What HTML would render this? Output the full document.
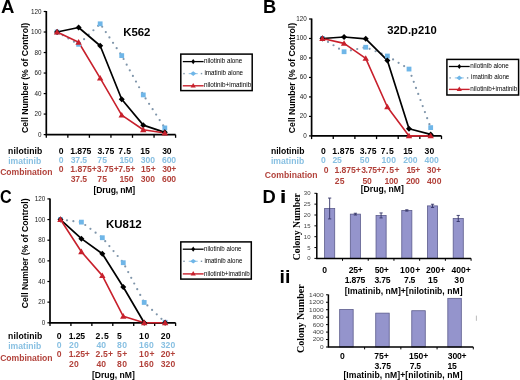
<!DOCTYPE html><html><head><meta charset="utf-8"><style>html,body{margin:0;padding:0;background:#fff;width:520px;height:380px;overflow:hidden}svg{display:block;filter:blur(0.3px)}</style></head><body>
<svg width="520" height="380" viewBox="0 0 520 380">
<rect width="520" height="380" fill="#fff"/>
<text x="1.14" y="12.90" font-family='"Liberation Sans", sans-serif' font-size="18" font-weight="bold" fill="#000" textLength="13.37" lengthAdjust="spacingAndGlyphs">A</text>
<text x="263.11" y="12.90" font-family='"Liberation Sans", sans-serif' font-size="18" font-weight="bold" fill="#000" textLength="13.26" lengthAdjust="spacingAndGlyphs">B</text>
<text x="0.05" y="203.10" font-family='"Liberation Sans", sans-serif' font-size="17.5" font-weight="bold" fill="#000" textLength="11.67" lengthAdjust="spacingAndGlyphs">C</text>
<text x="262.51" y="203.10" font-family='"Liberation Sans", sans-serif' font-size="17.5" font-weight="bold" fill="#000" textLength="13.26" lengthAdjust="spacingAndGlyphs">D</text>
<text x="279.70" y="203.10" font-family='"Liberation Sans", sans-serif' font-size="17.5" font-weight="bold" fill="#000" textLength="6.75" lengthAdjust="spacingAndGlyphs">i</text>
<text x="279.53" y="283.10" font-family='"Liberation Sans", sans-serif' font-size="17.5" font-weight="bold" fill="#000" textLength="10.85" lengthAdjust="spacingAndGlyphs">ii</text>
<text transform="translate(27.70,132.60) rotate(-90)" x="-0.34" y="0" font-family='"Liberation Sans", sans-serif' font-size="9.1" font-weight="bold" fill="#000" textLength="110.14" lengthAdjust="spacingAndGlyphs">Cell Number (% of Control)</text>
<path d="M46.30 11.00V134.60H175.60" fill="none" stroke="#000" stroke-width="1.7"/>
<path d="M43.70 134.60H46.30" stroke="#000" stroke-width="1.2"/>
<text x="38.01" y="136.60" font-family='"Liberation Sans", sans-serif' font-size="7.8" font-weight="normal" fill="#1a1a1a" textLength="3.51" lengthAdjust="spacingAndGlyphs">0</text>
<path d="M43.70 114.08H46.30" stroke="#000" stroke-width="1.2"/>
<text x="34.48" y="116.08" font-family='"Liberation Sans", sans-serif' font-size="7.8" font-weight="normal" fill="#1a1a1a" textLength="7.03" lengthAdjust="spacingAndGlyphs">20</text>
<path d="M43.70 93.57H46.30" stroke="#000" stroke-width="1.2"/>
<text x="34.48" y="95.57" font-family='"Liberation Sans", sans-serif' font-size="7.8" font-weight="normal" fill="#1a1a1a" textLength="7.03" lengthAdjust="spacingAndGlyphs">40</text>
<path d="M43.70 73.05H46.30" stroke="#000" stroke-width="1.2"/>
<text x="34.48" y="75.05" font-family='"Liberation Sans", sans-serif' font-size="7.8" font-weight="normal" fill="#1a1a1a" textLength="7.03" lengthAdjust="spacingAndGlyphs">60</text>
<path d="M43.70 52.53H46.30" stroke="#000" stroke-width="1.2"/>
<text x="34.48" y="54.53" font-family='"Liberation Sans", sans-serif' font-size="7.8" font-weight="normal" fill="#1a1a1a" textLength="7.03" lengthAdjust="spacingAndGlyphs">80</text>
<path d="M43.70 32.02H46.30" stroke="#000" stroke-width="1.2"/>
<text x="31.00" y="34.02" font-family='"Liberation Sans", sans-serif' font-size="7.8" font-weight="normal" fill="#1a1a1a" textLength="10.54" lengthAdjust="spacingAndGlyphs">100</text>
<path d="M43.70 11.50H46.30" stroke="#000" stroke-width="1.2"/>
<text x="31.00" y="13.50" font-family='"Liberation Sans", sans-serif' font-size="7.8" font-weight="normal" fill="#1a1a1a" textLength="10.54" lengthAdjust="spacingAndGlyphs">120</text>
<path d="M46.30 134.60V137.80" stroke="#000" stroke-width="1.3"/>
<path d="M67.85 134.60V137.80" stroke="#000" stroke-width="1.3"/>
<path d="M89.40 134.60V137.80" stroke="#000" stroke-width="1.3"/>
<path d="M110.95 134.60V137.80" stroke="#000" stroke-width="1.3"/>
<path d="M132.50 134.60V137.80" stroke="#000" stroke-width="1.3"/>
<path d="M154.05 134.60V137.80" stroke="#000" stroke-width="1.3"/>
<path d="M175.60 134.60V137.80" stroke="#000" stroke-width="1.3"/>
<g fill="#7f95aa"><circle cx="57.16" cy="32.07" r="1.1"/><circle cx="62.76" cy="35.27" r="1.1"/><circle cx="68.36" cy="38.46" r="1.1"/><circle cx="73.96" cy="41.66" r="1.1"/><circle cx="79.41" cy="43.58" r="1.1"/><circle cx="84.08" cy="39.13" r="1.1"/><circle cx="88.75" cy="34.69" r="1.1"/><circle cx="93.42" cy="30.24" r="1.1"/><circle cx="98.09" cy="25.79" r="1.1"/><circle cx="102.18" cy="26.77" r="1.1"/><circle cx="105.80" cy="32.11" r="1.1"/><circle cx="109.42" cy="37.45" r="1.1"/><circle cx="113.04" cy="42.79" r="1.1"/><circle cx="116.66" cy="48.13" r="1.1"/><circle cx="120.27" cy="53.47" r="1.1"/><circle cx="123.58" cy="59.00" r="1.1"/><circle cx="126.68" cy="64.65" r="1.1"/><circle cx="129.79" cy="70.31" r="1.1"/><circle cx="132.89" cy="75.96" r="1.1"/><circle cx="135.99" cy="81.62" r="1.1"/><circle cx="139.09" cy="87.27" r="1.1"/><circle cx="142.19" cy="92.93" r="1.1"/><circle cx="145.57" cy="98.42" r="1.1"/><circle cx="149.09" cy="103.82" r="1.1"/><circle cx="152.62" cy="109.22" r="1.1"/><circle cx="156.14" cy="114.62" r="1.1"/><circle cx="159.67" cy="120.03" r="1.1"/><circle cx="163.19" cy="125.43" r="1.1"/></g>
<polyline points="57.07,32.02 78.62,27.50 100.17,45.76 121.72,99.21 143.28,125.16 164.82,132.34" fill="none" stroke="#000" stroke-width="1.7" stroke-linejoin="round"/>
<polyline points="57.07,32.02 78.62,42.27 100.17,78.18 121.72,115.11 143.28,129.78 164.82,133.06" fill="none" stroke="#c8202c" stroke-width="1.6" stroke-linejoin="round"/>
<rect x="54.67" y="29.62" width="4.80" height="4.80" fill="#6fb6e8"/>
<rect x="76.22" y="41.93" width="4.80" height="4.80" fill="#6fb6e8"/>
<rect x="97.77" y="21.41" width="4.80" height="4.80" fill="#6fb6e8"/>
<rect x="119.32" y="53.21" width="4.80" height="4.80" fill="#6fb6e8"/>
<rect x="140.88" y="92.50" width="4.80" height="4.80" fill="#6fb6e8"/>
<rect x="162.42" y="125.53" width="4.80" height="4.80" fill="#6fb6e8"/>
<path d="M57.07 29.02L60.07 32.02L57.07 35.02L54.07 32.02Z" fill="#000"/>
<path d="M78.62 24.50L81.62 27.50L78.62 30.50L75.62 27.50Z" fill="#000"/>
<path d="M100.17 42.76L103.17 45.76L100.17 48.76L97.17 45.76Z" fill="#000"/>
<path d="M121.72 96.21L124.72 99.21L121.72 102.21L118.72 99.21Z" fill="#000"/>
<path d="M143.28 122.16L146.28 125.16L143.28 128.16L140.28 125.16Z" fill="#000"/>
<path d="M164.82 129.34L167.82 132.34L164.82 135.34L161.82 132.34Z" fill="#000"/>
<path d="M57.07 28.82L60.27 34.42L53.87 34.42Z" fill="#c8202c"/>
<path d="M78.62 39.07L81.83 44.67L75.42 44.67Z" fill="#c8202c"/>
<path d="M100.17 74.98L103.38 80.58L96.97 80.58Z" fill="#c8202c"/>
<path d="M121.72 111.91L124.92 117.51L118.52 117.51Z" fill="#c8202c"/>
<path d="M143.28 126.58L146.47 132.18L140.08 132.18Z" fill="#c8202c"/>
<path d="M164.82 129.86L168.02 135.46L161.62 135.46Z" fill="#c8202c"/>
<text x="123.20" y="35.90" font-family='"Liberation Sans", sans-serif' font-size="11.7" font-weight="bold" fill="#000" textLength="27.26" lengthAdjust="spacingAndGlyphs">K562</text>
<rect x="180.80" y="54.10" width="71.40" height="36.50" fill="none" stroke="#000" stroke-width="1.5"/>
<path d="M182.80 61.60H203.60" stroke="#000" stroke-width="1.3"/>
<path d="M193.20 59.00L195.10 61.60L193.20 64.20L191.30 61.60Z" fill="#000"/>
<rect x="183.30" y="72.90" width="1.4" height="1.4" fill="#7f95aa"/>
<rect x="200.80" y="72.90" width="1.4" height="1.4" fill="#7f95aa"/>
<path d="M188.70 73.60H197.70" stroke="#9fcbe8" stroke-width="1.2"/>
<path d="M193.20 71.30L196.20 73.60L193.20 75.90L190.20 73.60Z" fill="#6fb6e8"/>
<path d="M182.80 85.80H203.60" stroke="#c8202c" stroke-width="1.4"/>
<path d="M193.20 82.90L195.80 87.45L190.60 87.45Z" fill="#c8202c"/>
<text x="203.96" y="63.30" font-family='"Liberation Sans", sans-serif' font-size="6.8" font-weight="normal" fill="#000" textLength="38.32" lengthAdjust="spacingAndGlyphs">nilotinib alone</text>
<text x="204.46" y="75.10" font-family='"Liberation Sans", sans-serif' font-size="6.8" font-weight="normal" fill="#000" textLength="38.65" lengthAdjust="spacingAndGlyphs">imatinib alone</text>
<text x="203.95" y="87.40" font-family='"Liberation Sans", sans-serif' font-size="6.8" font-weight="normal" fill="#000" textLength="47.31" lengthAdjust="spacingAndGlyphs">nilotinib+imatinib</text>
<text transform="translate(294.50,132.80) rotate(-90)" x="-0.35" y="0" font-family='"Liberation Sans", sans-serif' font-size="9.1" font-weight="bold" fill="#000" textLength="110.24" lengthAdjust="spacingAndGlyphs">Cell Number (% of Control)</text>
<path d="M311.60 18.50V135.90H441.50" fill="none" stroke="#000" stroke-width="1.7"/>
<path d="M309.00 135.90H311.60" stroke="#000" stroke-width="1.2"/>
<text x="303.21" y="137.90" font-family='"Liberation Sans", sans-serif' font-size="7.8" font-weight="normal" fill="#1a1a1a" textLength="3.51" lengthAdjust="spacingAndGlyphs">0</text>
<path d="M309.00 116.42H311.60" stroke="#000" stroke-width="1.2"/>
<text x="299.68" y="118.42" font-family='"Liberation Sans", sans-serif' font-size="7.8" font-weight="normal" fill="#1a1a1a" textLength="7.03" lengthAdjust="spacingAndGlyphs">20</text>
<path d="M309.00 96.93H311.60" stroke="#000" stroke-width="1.2"/>
<text x="299.68" y="98.93" font-family='"Liberation Sans", sans-serif' font-size="7.8" font-weight="normal" fill="#1a1a1a" textLength="7.03" lengthAdjust="spacingAndGlyphs">40</text>
<path d="M309.00 77.45H311.60" stroke="#000" stroke-width="1.2"/>
<text x="299.68" y="79.45" font-family='"Liberation Sans", sans-serif' font-size="7.8" font-weight="normal" fill="#1a1a1a" textLength="7.03" lengthAdjust="spacingAndGlyphs">60</text>
<path d="M309.00 57.97H311.60" stroke="#000" stroke-width="1.2"/>
<text x="299.68" y="59.97" font-family='"Liberation Sans", sans-serif' font-size="7.8" font-weight="normal" fill="#1a1a1a" textLength="7.03" lengthAdjust="spacingAndGlyphs">80</text>
<path d="M309.00 38.48H311.60" stroke="#000" stroke-width="1.2"/>
<text x="296.20" y="40.48" font-family='"Liberation Sans", sans-serif' font-size="7.8" font-weight="normal" fill="#1a1a1a" textLength="10.54" lengthAdjust="spacingAndGlyphs">100</text>
<path d="M309.00 19.00H311.60" stroke="#000" stroke-width="1.2"/>
<text x="296.20" y="21.00" font-family='"Liberation Sans", sans-serif' font-size="7.8" font-weight="normal" fill="#1a1a1a" textLength="10.54" lengthAdjust="spacingAndGlyphs">120</text>
<path d="M311.60 135.90V139.10" stroke="#000" stroke-width="1.3"/>
<path d="M333.25 135.90V139.10" stroke="#000" stroke-width="1.3"/>
<path d="M354.90 135.90V139.10" stroke="#000" stroke-width="1.3"/>
<path d="M376.55 135.90V139.10" stroke="#000" stroke-width="1.3"/>
<path d="M398.20 135.90V139.10" stroke="#000" stroke-width="1.3"/>
<path d="M419.85 135.90V139.10" stroke="#000" stroke-width="1.3"/>
<path d="M441.50 135.90V139.10" stroke="#000" stroke-width="1.3"/>
<g fill="#7f95aa"><circle cx="322.51" cy="38.54" r="1.1"/><circle cx="328.01" cy="41.90" r="1.1"/><circle cx="333.51" cy="45.27" r="1.1"/><circle cx="339.02" cy="48.64" r="1.1"/><circle cx="344.58" cy="51.63" r="1.1"/><circle cx="350.90" cy="50.32" r="1.1"/><circle cx="357.21" cy="49.01" r="1.1"/><circle cx="363.53" cy="47.71" r="1.1"/><circle cx="369.63" cy="48.83" r="1.1"/><circle cx="375.60" cy="51.25" r="1.1"/><circle cx="381.58" cy="53.67" r="1.1"/><circle cx="387.55" cy="56.12" r="1.1"/><circle cx="393.07" cy="59.45" r="1.1"/><circle cx="398.59" cy="62.78" r="1.1"/><circle cx="404.12" cy="66.11" r="1.1"/><circle cx="409.27" cy="69.75" r="1.1"/><circle cx="411.51" cy="75.80" r="1.1"/><circle cx="413.75" cy="81.85" r="1.1"/><circle cx="415.99" cy="87.90" r="1.1"/><circle cx="418.22" cy="93.95" r="1.1"/><circle cx="420.46" cy="100.00" r="1.1"/><circle cx="422.70" cy="106.05" r="1.1"/><circle cx="424.93" cy="112.10" r="1.1"/><circle cx="427.17" cy="118.14" r="1.1"/><circle cx="429.41" cy="124.19" r="1.1"/></g>
<polyline points="322.43,38.48 344.08,37.02 365.73,38.87 387.38,60.40 409.02,128.79 430.68,134.44" fill="none" stroke="#000" stroke-width="1.7" stroke-linejoin="round"/>
<polyline points="322.43,38.48 344.08,43.35 365.73,58.45 387.38,106.97 409.02,135.90 430.68,135.90" fill="none" stroke="#c8202c" stroke-width="1.6" stroke-linejoin="round"/>
<rect x="320.03" y="36.08" width="4.80" height="4.80" fill="#6fb6e8"/>
<rect x="341.68" y="49.33" width="4.80" height="4.80" fill="#6fb6e8"/>
<rect x="363.33" y="44.85" width="4.80" height="4.80" fill="#6fb6e8"/>
<rect x="384.98" y="53.62" width="4.80" height="4.80" fill="#6fb6e8"/>
<rect x="406.62" y="66.67" width="4.80" height="4.80" fill="#6fb6e8"/>
<rect x="428.28" y="125.22" width="4.80" height="4.80" fill="#6fb6e8"/>
<path d="M322.43 35.48L325.43 38.48L322.43 41.48L319.43 38.48Z" fill="#000"/>
<path d="M344.08 34.02L347.08 37.02L344.08 40.02L341.08 37.02Z" fill="#000"/>
<path d="M365.73 35.87L368.73 38.87L365.73 41.87L362.73 38.87Z" fill="#000"/>
<path d="M387.38 57.40L390.38 60.40L387.38 63.40L384.38 60.40Z" fill="#000"/>
<path d="M409.02 125.79L412.02 128.79L409.02 131.79L406.02 128.79Z" fill="#000"/>
<path d="M430.68 131.44L433.68 134.44L430.68 137.44L427.68 134.44Z" fill="#000"/>
<path d="M322.43 35.28L325.62 40.88L319.23 40.88Z" fill="#c8202c"/>
<path d="M344.08 40.15L347.28 45.75L340.88 45.75Z" fill="#c8202c"/>
<path d="M365.73 55.25L368.93 60.85L362.53 60.85Z" fill="#c8202c"/>
<path d="M387.38 103.77L390.57 109.37L384.18 109.37Z" fill="#c8202c"/>
<path d="M409.02 132.70L412.22 138.30L405.82 138.30Z" fill="#c8202c"/>
<path d="M430.68 132.70L433.88 138.30L427.48 138.30Z" fill="#c8202c"/>
<text x="387.28" y="33.80" font-family='"Liberation Sans", sans-serif' font-size="11.3" font-weight="bold" fill="#000" textLength="49.38" lengthAdjust="spacingAndGlyphs">32D.p210</text>
<rect x="446.90" y="59.40" width="71.70" height="35.60" fill="none" stroke="#000" stroke-width="1.5"/>
<path d="M448.90 66.50H469.70" stroke="#000" stroke-width="1.3"/>
<path d="M459.30 63.90L461.20 66.50L459.30 69.10L457.40 66.50Z" fill="#000"/>
<rect x="449.40" y="77.20" width="1.4" height="1.4" fill="#7f95aa"/>
<rect x="466.90" y="77.20" width="1.4" height="1.4" fill="#7f95aa"/>
<path d="M454.80 77.90H463.80" stroke="#9fcbe8" stroke-width="1.2"/>
<path d="M459.30 75.60L462.30 77.90L459.30 80.20L456.30 77.90Z" fill="#6fb6e8"/>
<path d="M448.90 89.40H469.70" stroke="#c8202c" stroke-width="1.4"/>
<path d="M459.30 86.50L461.90 91.05L456.70 91.05Z" fill="#c8202c"/>
<text x="470.36" y="68.20" font-family='"Liberation Sans", sans-serif' font-size="6.8" font-weight="normal" fill="#000" textLength="38.42" lengthAdjust="spacingAndGlyphs">nilotinib alone</text>
<text x="471.07" y="79.40" font-family='"Liberation Sans", sans-serif' font-size="6.8" font-weight="normal" fill="#000" textLength="38.24" lengthAdjust="spacingAndGlyphs">imatinib alone</text>
<text x="470.36" y="91.00" font-family='"Liberation Sans", sans-serif' font-size="6.8" font-weight="normal" fill="#000" textLength="46.90" lengthAdjust="spacingAndGlyphs">nilotinib+imatinib</text>
<text transform="translate(27.80,307.90) rotate(-90)" x="-0.34" y="0" font-family='"Liberation Sans", sans-serif' font-size="9.1" font-weight="bold" fill="#000" textLength="109.73" lengthAdjust="spacingAndGlyphs">Cell Number (% of Control)</text>
<path d="M50.00 198.40V322.80H175.60" fill="none" stroke="#000" stroke-width="1.7"/>
<path d="M47.40 322.80H50.00" stroke="#000" stroke-width="1.2"/>
<text x="41.71" y="324.80" font-family='"Liberation Sans", sans-serif' font-size="7.8" font-weight="normal" fill="#1a1a1a" textLength="3.51" lengthAdjust="spacingAndGlyphs">0</text>
<path d="M47.40 302.15H50.00" stroke="#000" stroke-width="1.2"/>
<text x="38.18" y="304.15" font-family='"Liberation Sans", sans-serif' font-size="7.8" font-weight="normal" fill="#1a1a1a" textLength="7.03" lengthAdjust="spacingAndGlyphs">20</text>
<path d="M47.40 281.50H50.00" stroke="#000" stroke-width="1.2"/>
<text x="38.18" y="283.50" font-family='"Liberation Sans", sans-serif' font-size="7.8" font-weight="normal" fill="#1a1a1a" textLength="7.03" lengthAdjust="spacingAndGlyphs">40</text>
<path d="M47.40 260.85H50.00" stroke="#000" stroke-width="1.2"/>
<text x="38.18" y="262.85" font-family='"Liberation Sans", sans-serif' font-size="7.8" font-weight="normal" fill="#1a1a1a" textLength="7.03" lengthAdjust="spacingAndGlyphs">60</text>
<path d="M47.40 240.20H50.00" stroke="#000" stroke-width="1.2"/>
<text x="38.18" y="242.20" font-family='"Liberation Sans", sans-serif' font-size="7.8" font-weight="normal" fill="#1a1a1a" textLength="7.03" lengthAdjust="spacingAndGlyphs">80</text>
<path d="M47.40 219.55H50.00" stroke="#000" stroke-width="1.2"/>
<text x="34.70" y="221.55" font-family='"Liberation Sans", sans-serif' font-size="7.8" font-weight="normal" fill="#1a1a1a" textLength="10.54" lengthAdjust="spacingAndGlyphs">100</text>
<path d="M47.40 198.90H50.00" stroke="#000" stroke-width="1.2"/>
<text x="34.70" y="200.90" font-family='"Liberation Sans", sans-serif' font-size="7.8" font-weight="normal" fill="#1a1a1a" textLength="10.54" lengthAdjust="spacingAndGlyphs">120</text>
<path d="M50.00 322.80V326.00" stroke="#000" stroke-width="1.3"/>
<path d="M70.93 322.80V326.00" stroke="#000" stroke-width="1.3"/>
<path d="M91.87 322.80V326.00" stroke="#000" stroke-width="1.3"/>
<path d="M112.80 322.80V326.00" stroke="#000" stroke-width="1.3"/>
<path d="M133.73 322.80V326.00" stroke="#000" stroke-width="1.3"/>
<path d="M154.67 322.80V326.00" stroke="#000" stroke-width="1.3"/>
<path d="M175.60 322.80V326.00" stroke="#000" stroke-width="1.3"/>
<g fill="#7f95aa"><circle cx="60.57" cy="219.56" r="1.1"/><circle cx="66.97" cy="220.35" r="1.1"/><circle cx="73.37" cy="221.14" r="1.1"/><circle cx="79.77" cy="221.93" r="1.1"/><circle cx="85.26" cy="225.00" r="1.1"/><circle cx="90.43" cy="228.86" r="1.1"/><circle cx="95.60" cy="232.71" r="1.1"/><circle cx="100.77" cy="236.56" r="1.1"/><circle cx="105.23" cy="241.18" r="1.1"/><circle cx="109.37" cy="246.12" r="1.1"/><circle cx="113.51" cy="251.07" r="1.1"/><circle cx="117.65" cy="256.01" r="1.1"/><circle cx="121.80" cy="260.95" r="1.1"/><circle cx="125.21" cy="266.39" r="1.1"/><circle cx="128.21" cy="272.10" r="1.1"/><circle cx="131.22" cy="277.80" r="1.1"/><circle cx="134.22" cy="283.51" r="1.1"/><circle cx="137.23" cy="289.22" r="1.1"/><circle cx="140.23" cy="294.92" r="1.1"/><circle cx="143.24" cy="300.63" r="1.1"/><circle cx="147.38" cy="305.47" r="1.1"/><circle cx="152.07" cy="309.91" r="1.1"/><circle cx="156.75" cy="314.34" r="1.1"/><circle cx="161.43" cy="318.78" r="1.1"/></g>
<polyline points="60.47,219.55 81.40,238.65 102.33,253.73 123.27,286.97 144.20,322.80 165.13,322.80" fill="none" stroke="#000" stroke-width="1.7" stroke-linejoin="round"/>
<polyline points="60.47,219.55 81.40,251.76 102.33,275.61 123.27,316.30 144.20,322.80 165.13,322.80" fill="none" stroke="#c8202c" stroke-width="1.6" stroke-linejoin="round"/>
<rect x="58.07" y="217.15" width="4.80" height="4.80" fill="#6fb6e8"/>
<rect x="79.00" y="219.73" width="4.80" height="4.80" fill="#6fb6e8"/>
<rect x="99.93" y="235.32" width="4.80" height="4.80" fill="#6fb6e8"/>
<rect x="120.87" y="260.31" width="4.80" height="4.80" fill="#6fb6e8"/>
<rect x="141.80" y="300.06" width="4.80" height="4.80" fill="#6fb6e8"/>
<rect x="162.73" y="319.88" width="4.80" height="4.80" fill="#6fb6e8"/>
<path d="M60.47 216.55L63.47 219.55L60.47 222.55L57.47 219.55Z" fill="#000"/>
<path d="M81.40 235.65L84.40 238.65L81.40 241.65L78.40 238.65Z" fill="#000"/>
<path d="M102.33 250.73L105.33 253.73L102.33 256.73L99.33 253.73Z" fill="#000"/>
<path d="M123.27 283.97L126.27 286.97L123.27 289.97L120.27 286.97Z" fill="#000"/>
<path d="M144.20 319.80L147.20 322.80L144.20 325.80L141.20 322.80Z" fill="#000"/>
<path d="M165.13 319.80L168.13 322.80L165.13 325.80L162.13 322.80Z" fill="#000"/>
<path d="M60.47 216.35L63.67 221.95L57.27 221.95Z" fill="#c8202c"/>
<path d="M81.40 248.56L84.60 254.16L78.20 254.16Z" fill="#c8202c"/>
<path d="M102.33 272.41L105.53 278.01L99.13 278.01Z" fill="#c8202c"/>
<path d="M123.27 313.10L126.47 318.70L120.07 318.70Z" fill="#c8202c"/>
<path d="M144.20 319.60L147.40 325.20L141.00 325.20Z" fill="#c8202c"/>
<path d="M165.13 319.60L168.33 325.20L161.93 325.20Z" fill="#c8202c"/>
<text x="105.90" y="228.30" font-family='"Liberation Sans", sans-serif' font-size="11.8" font-weight="bold" fill="#000" textLength="35.78" lengthAdjust="spacingAndGlyphs">KU812</text>
<rect x="180.80" y="241.90" width="70.50" height="37.20" fill="none" stroke="#000" stroke-width="1.5"/>
<path d="M182.80 249.20H203.60" stroke="#000" stroke-width="1.3"/>
<path d="M193.20 246.60L195.10 249.20L193.20 251.80L191.30 249.20Z" fill="#000"/>
<rect x="183.30" y="260.60" width="1.4" height="1.4" fill="#7f95aa"/>
<rect x="200.80" y="260.60" width="1.4" height="1.4" fill="#7f95aa"/>
<path d="M188.70 261.30H197.70" stroke="#9fcbe8" stroke-width="1.2"/>
<path d="M193.20 259.00L196.20 261.30L193.20 263.60L190.20 261.30Z" fill="#6fb6e8"/>
<path d="M182.80 273.90H203.60" stroke="#c8202c" stroke-width="1.4"/>
<path d="M193.20 271.00L195.80 275.55L190.60 275.55Z" fill="#c8202c"/>
<text x="203.97" y="250.90" font-family='"Liberation Sans", sans-serif' font-size="6.8" font-weight="normal" fill="#000" textLength="37.51" lengthAdjust="spacingAndGlyphs">nilotinib alone</text>
<text x="204.47" y="262.80" font-family='"Liberation Sans", sans-serif' font-size="6.8" font-weight="normal" fill="#000" textLength="37.84" lengthAdjust="spacingAndGlyphs">imatinib alone</text>
<text x="203.97" y="275.50" font-family='"Liberation Sans", sans-serif' font-size="6.8" font-weight="normal" fill="#000" textLength="45.68" lengthAdjust="spacingAndGlyphs">nilotinib+imatinib</text>
<text x="8.10" y="153.60" font-family='"Liberation Sans", sans-serif' font-size="8.6" font-weight="bold" fill="#000" style="letter-spacing:0.099px">nilotinib</text>
<text x="8.20" y="163.80" font-family='"Liberation Sans", sans-serif' font-size="8.6" font-weight="bold" fill="#88c0e2" style="letter-spacing:0.015px">imatinib</text>
<text x="0.16" y="174.90" font-family='"Liberation Sans", sans-serif' font-size="8.6" font-weight="bold" fill="#b2423b" style="letter-spacing:-0.029px">Combination</text>
<text x="58.66" y="154.00" font-family='"Liberation Sans", sans-serif' font-size="8.6" font-weight="bold" fill="#000">0</text>
<text x="70.28" y="154.00" font-family='"Liberation Sans", sans-serif' font-size="8.6" font-weight="bold" fill="#000" style="letter-spacing:-0.103px">1.875</text>
<text x="97.43" y="154.00" font-family='"Liberation Sans", sans-serif' font-size="8.6" font-weight="bold" fill="#000" style="letter-spacing:0.020px">3.75</text>
<text x="118.16" y="154.00" font-family='"Liberation Sans", sans-serif' font-size="8.6" font-weight="bold" fill="#000" style="letter-spacing:0.474px">7.5</text>
<text x="140.28" y="154.00" font-family='"Liberation Sans", sans-serif' font-size="8.6" font-weight="bold" fill="#000" style="letter-spacing:0.042px">15</text>
<text x="162.13" y="154.00" font-family='"Liberation Sans", sans-serif' font-size="8.6" font-weight="bold" fill="#000" style="letter-spacing:-0.216px">30</text>
<text x="58.66" y="163.30" font-family='"Liberation Sans", sans-serif' font-size="8.6" font-weight="bold" fill="#88c0e2">0</text>
<text x="70.63" y="163.30" font-family='"Liberation Sans", sans-serif' font-size="8.6" font-weight="bold" fill="#88c0e2" style="letter-spacing:-0.147px">37.5</text>
<text x="97.26" y="163.30" font-family='"Liberation Sans", sans-serif' font-size="8.6" font-weight="bold" fill="#88c0e2" style="letter-spacing:0.170px">75</text>
<text x="119.48" y="163.30" font-family='"Liberation Sans", sans-serif' font-size="8.6" font-weight="bold" fill="#88c0e2" style="letter-spacing:-0.201px">150</text>
<text x="140.63" y="163.30" font-family='"Liberation Sans", sans-serif' font-size="8.6" font-weight="bold" fill="#88c0e2" style="letter-spacing:-0.023px">300</text>
<text x="161.96" y="163.30" font-family='"Liberation Sans", sans-serif' font-size="8.6" font-weight="bold" fill="#88c0e2" style="letter-spacing:-0.087px">600</text>
<text x="58.66" y="171.50" font-family='"Liberation Sans", sans-serif' font-size="8.6" font-weight="bold" fill="#b2423b">0</text>
<text x="70.28" y="171.50" font-family='"Liberation Sans", sans-serif' font-size="8.6" font-weight="bold" fill="#b2423b" style="letter-spacing:-0.006px">1.875+</text>
<text x="96.63" y="171.50" font-family='"Liberation Sans", sans-serif' font-size="8.6" font-weight="bold" fill="#b2423b" style="letter-spacing:0.090px">3.75+</text>
<text x="118.26" y="171.50" font-family='"Liberation Sans", sans-serif' font-size="8.6" font-weight="bold" fill="#b2423b" style="letter-spacing:0.049px">7.5+</text>
<text x="140.98" y="171.50" font-family='"Liberation Sans", sans-serif' font-size="8.6" font-weight="bold" fill="#b2423b" style="letter-spacing:0.063px">15+</text>
<text x="162.13" y="171.50" font-family='"Liberation Sans", sans-serif' font-size="8.6" font-weight="bold" fill="#b2423b" style="letter-spacing:-0.259px">30+</text>
<text x="70.63" y="181.80" font-family='"Liberation Sans", sans-serif' font-size="8.6" font-weight="bold" fill="#b2423b" style="letter-spacing:-0.147px">37.5</text>
<text x="97.26" y="181.80" font-family='"Liberation Sans", sans-serif' font-size="8.6" font-weight="bold" fill="#b2423b" style="letter-spacing:0.170px">75</text>
<text x="119.48" y="181.80" font-family='"Liberation Sans", sans-serif' font-size="8.6" font-weight="bold" fill="#b2423b" style="letter-spacing:-0.201px">150</text>
<text x="140.63" y="181.80" font-family='"Liberation Sans", sans-serif' font-size="8.6" font-weight="bold" fill="#b2423b" style="letter-spacing:-0.023px">300</text>
<text x="161.96" y="181.80" font-family='"Liberation Sans", sans-serif' font-size="8.6" font-weight="bold" fill="#b2423b" style="letter-spacing:-0.087px">600</text>
<text x="93.58" y="192.50" font-family='"Liberation Sans", sans-serif' font-size="8.6" font-weight="bold" fill="#000" style="letter-spacing:-0.150px">[Drug, nM]</text>
<text x="270.90" y="153.70" font-family='"Liberation Sans", sans-serif' font-size="8.6" font-weight="bold" fill="#000" style="letter-spacing:0.012px">nilotinib</text>
<text x="270.90" y="164.00" font-family='"Liberation Sans", sans-serif' font-size="8.6" font-weight="bold" fill="#88c0e2" style="letter-spacing:0.044px">imatinib</text>
<text x="264.86" y="177.90" font-family='"Liberation Sans", sans-serif' font-size="8.6" font-weight="bold" fill="#b2423b" style="letter-spacing:0.021px">Combination</text>
<text x="321.06" y="153.80" font-family='"Liberation Sans", sans-serif' font-size="8.6" font-weight="bold" fill="#000">0</text>
<text x="332.28" y="153.80" font-family='"Liberation Sans", sans-serif' font-size="8.6" font-weight="bold" fill="#000" style="letter-spacing:0.147px">1.875</text>
<text x="359.83" y="153.80" font-family='"Liberation Sans", sans-serif' font-size="8.6" font-weight="bold" fill="#000" style="letter-spacing:-0.047px">3.75</text>
<text x="380.86" y="153.80" font-family='"Liberation Sans", sans-serif' font-size="8.6" font-weight="bold" fill="#000" style="letter-spacing:0.474px">7.5</text>
<text x="403.28" y="153.80" font-family='"Liberation Sans", sans-serif' font-size="8.6" font-weight="bold" fill="#000" style="letter-spacing:-0.300px">15</text>
<text x="424.43" y="153.80" font-family='"Liberation Sans", sans-serif' font-size="8.6" font-weight="bold" fill="#000" style="letter-spacing:0.184px">30</text>
<text x="321.06" y="162.70" font-family='"Liberation Sans", sans-serif' font-size="8.6" font-weight="bold" fill="#88c0e2">0</text>
<text x="332.54" y="162.70" font-family='"Liberation Sans", sans-serif' font-size="8.6" font-weight="bold" fill="#88c0e2" style="letter-spacing:-0.300px">25</text>
<text x="359.74" y="162.70" font-family='"Liberation Sans", sans-serif' font-size="8.6" font-weight="bold" fill="#88c0e2" style="letter-spacing:0.170px">50</text>
<text x="381.38" y="162.70" font-family='"Liberation Sans", sans-serif' font-size="8.6" font-weight="bold" fill="#88c0e2" style="letter-spacing:0.199px">100</text>
<text x="403.14" y="162.70" font-family='"Liberation Sans", sans-serif' font-size="8.6" font-weight="bold" fill="#88c0e2" style="letter-spacing:0.020px">200</text>
<text x="424.51" y="162.70" font-family='"Liberation Sans", sans-serif' font-size="8.6" font-weight="bold" fill="#88c0e2" style="letter-spacing:-0.016px">400</text>
<text x="323.66" y="173.00" font-family='"Liberation Sans", sans-serif' font-size="8.6" font-weight="bold" fill="#b2423b">0</text>
<text x="334.48" y="173.00" font-family='"Liberation Sans", sans-serif' font-size="8.6" font-weight="bold" fill="#b2423b" style="letter-spacing:-0.066px">1.875+</text>
<text x="361.13" y="173.00" font-family='"Liberation Sans", sans-serif' font-size="8.6" font-weight="bold" fill="#b2423b" style="letter-spacing:-0.300px">3.75+</text>
<text x="380.96" y="173.00" font-family='"Liberation Sans", sans-serif' font-size="8.6" font-weight="bold" fill="#b2423b" style="letter-spacing:0.549px">7.5+</text>
<text x="406.38" y="173.00" font-family='"Liberation Sans", sans-serif' font-size="8.6" font-weight="bold" fill="#b2423b" style="letter-spacing:-0.300px">15+</text>
<text x="426.83" y="173.00" font-family='"Liberation Sans", sans-serif' font-size="8.6" font-weight="bold" fill="#b2423b" style="letter-spacing:-0.109px">30+</text>
<text x="334.74" y="183.90" font-family='"Liberation Sans", sans-serif' font-size="8.6" font-weight="bold" fill="#b2423b" style="letter-spacing:0.184px">25</text>
<text x="362.54" y="183.90" font-family='"Liberation Sans", sans-serif' font-size="8.6" font-weight="bold" fill="#b2423b" style="letter-spacing:-0.300px">50</text>
<text x="384.48" y="183.90" font-family='"Liberation Sans", sans-serif' font-size="8.6" font-weight="bold" fill="#b2423b" style="letter-spacing:-0.251px">100</text>
<text x="405.94" y="183.90" font-family='"Liberation Sans", sans-serif' font-size="8.6" font-weight="bold" fill="#b2423b" style="letter-spacing:-0.230px">200</text>
<text x="426.91" y="183.90" font-family='"Liberation Sans", sans-serif' font-size="8.6" font-weight="bold" fill="#b2423b" style="letter-spacing:0.134px">400</text>
<text x="360.68" y="191.90" font-family='"Liberation Sans", sans-serif' font-size="8.6" font-weight="bold" fill="#000" style="letter-spacing:0.027px">[Drug, nM]</text>
<text x="8.10" y="338.80" font-family='"Liberation Sans", sans-serif' font-size="8.6" font-weight="bold" fill="#000" style="letter-spacing:0.099px">nilotinib</text>
<text x="8.20" y="348.90" font-family='"Liberation Sans", sans-serif' font-size="8.6" font-weight="bold" fill="#88c0e2" style="letter-spacing:0.015px">imatinib</text>
<text x="0.16" y="360.50" font-family='"Liberation Sans", sans-serif' font-size="8.6" font-weight="bold" fill="#b2423b" style="letter-spacing:-0.019px">Combination</text>
<text x="56.76" y="339.20" font-family='"Liberation Sans", sans-serif' font-size="8.6" font-weight="bold" fill="#000">0</text>
<text x="68.68" y="339.20" font-family='"Liberation Sans", sans-serif' font-size="8.6" font-weight="bold" fill="#000" style="letter-spacing:-0.099px">1.25</text>
<text x="95.54" y="339.20" font-family='"Liberation Sans", sans-serif' font-size="8.6" font-weight="bold" fill="#000" style="letter-spacing:0.600px">2.5</text>
<text x="116.94" y="339.20" font-family='"Liberation Sans", sans-serif' font-size="8.6" font-weight="bold" fill="#000">5</text>
<text x="139.08" y="339.20" font-family='"Liberation Sans", sans-serif' font-size="8.6" font-weight="bold" fill="#000" style="letter-spacing:0.528px">10</text>
<text x="160.64" y="339.20" font-family='"Liberation Sans", sans-serif' font-size="8.6" font-weight="bold" fill="#000" style="letter-spacing:0.370px">20</text>
<text x="56.76" y="348.30" font-family='"Liberation Sans", sans-serif' font-size="8.6" font-weight="bold" fill="#88c0e2">0</text>
<text x="68.94" y="348.30" font-family='"Liberation Sans", sans-serif' font-size="8.6" font-weight="bold" fill="#88c0e2" style="letter-spacing:0.270px">20</text>
<text x="96.41" y="348.30" font-family='"Liberation Sans", sans-serif' font-size="8.6" font-weight="bold" fill="#88c0e2" style="letter-spacing:-0.002px">40</text>
<text x="116.94" y="348.30" font-family='"Liberation Sans", sans-serif' font-size="8.6" font-weight="bold" fill="#88c0e2" style="letter-spacing:0.600px">80</text>
<text x="139.08" y="348.30" font-family='"Liberation Sans", sans-serif' font-size="8.6" font-weight="bold" fill="#88c0e2" style="letter-spacing:0.199px">160</text>
<text x="160.73" y="348.30" font-family='"Liberation Sans", sans-serif' font-size="8.6" font-weight="bold" fill="#88c0e2" style="letter-spacing:0.077px">320</text>
<text x="56.76" y="356.70" font-family='"Liberation Sans", sans-serif' font-size="8.6" font-weight="bold" fill="#b2423b">0</text>
<text x="68.68" y="356.70" font-family='"Liberation Sans", sans-serif' font-size="8.6" font-weight="bold" fill="#b2423b" style="letter-spacing:-0.150px">1.25+</text>
<text x="95.54" y="356.70" font-family='"Liberation Sans", sans-serif' font-size="8.6" font-weight="bold" fill="#b2423b" style="letter-spacing:0.153px">2.5+</text>
<text x="116.94" y="356.70" font-family='"Liberation Sans", sans-serif' font-size="8.6" font-weight="bold" fill="#b2423b" style="letter-spacing:0.498px">5+</text>
<text x="139.08" y="356.70" font-family='"Liberation Sans", sans-serif' font-size="8.6" font-weight="bold" fill="#b2423b" style="letter-spacing:0.463px">10+</text>
<text x="160.64" y="356.70" font-family='"Liberation Sans", sans-serif' font-size="8.6" font-weight="bold" fill="#b2423b" style="letter-spacing:0.034px">20+</text>
<text x="68.94" y="366.70" font-family='"Liberation Sans", sans-serif' font-size="8.6" font-weight="bold" fill="#b2423b" style="letter-spacing:0.270px">20</text>
<text x="96.41" y="366.70" font-family='"Liberation Sans", sans-serif' font-size="8.6" font-weight="bold" fill="#b2423b" style="letter-spacing:-0.002px">40</text>
<text x="116.94" y="366.70" font-family='"Liberation Sans", sans-serif' font-size="8.6" font-weight="bold" fill="#b2423b" style="letter-spacing:0.600px">80</text>
<text x="139.08" y="366.70" font-family='"Liberation Sans", sans-serif' font-size="8.6" font-weight="bold" fill="#b2423b" style="letter-spacing:0.199px">160</text>
<text x="160.73" y="366.70" font-family='"Liberation Sans", sans-serif' font-size="8.6" font-weight="bold" fill="#b2423b" style="letter-spacing:0.077px">320</text>
<text x="91.98" y="377.60" font-family='"Liberation Sans", sans-serif' font-size="8.6" font-weight="bold" fill="#000" style="letter-spacing:-0.006px">[Drug, nM]</text>
<text transform="translate(299.60,259.70) rotate(-90)" x="-0.49" y="0" font-family='"Liberation Serif", serif' font-size="9.6" font-weight="bold" fill="#000" textLength="67.00" lengthAdjust="spacingAndGlyphs">Colony Number</text>
<rect x="324.61" y="208.49" width="10.10" height="49.91" fill="#9494cc" stroke="#5c5c8c" stroke-width="0.8"/>
<path d="M329.66 198.07V218.91M328.06 198.07h3.2M328.06 218.91h3.2" stroke="#333366" stroke-width="0.9" fill="none"/>
<rect x="350.32" y="214.13" width="10.10" height="44.27" fill="#9494cc" stroke="#5c5c8c" stroke-width="0.8"/>
<path d="M355.38 213.26V215.00M353.77 213.26h3.2M353.77 215.00h3.2" stroke="#333366" stroke-width="0.9" fill="none"/>
<rect x="376.04" y="215.43" width="10.10" height="42.97" fill="#9494cc" stroke="#5c5c8c" stroke-width="0.8"/>
<path d="M381.09 212.94V217.93M379.49 212.94h3.2M379.49 217.93h3.2" stroke="#333366" stroke-width="0.9" fill="none"/>
<rect x="401.76" y="210.44" width="10.10" height="47.96" fill="#9494cc" stroke="#5c5c8c" stroke-width="0.8"/>
<path d="M406.81 209.79V211.09M405.21 209.79h3.2M405.21 211.09h3.2" stroke="#333366" stroke-width="0.9" fill="none"/>
<rect x="427.48" y="205.89" width="10.10" height="52.51" fill="#9494cc" stroke="#5c5c8c" stroke-width="0.8"/>
<path d="M432.53 204.26V207.51M430.93 204.26h3.2M430.93 207.51h3.2" stroke="#333366" stroke-width="0.9" fill="none"/>
<rect x="453.19" y="218.47" width="10.10" height="39.93" fill="#9494cc" stroke="#5c5c8c" stroke-width="0.8"/>
<path d="M458.24 215.43V221.51M456.64 215.43h3.2M456.64 221.51h3.2" stroke="#333366" stroke-width="0.9" fill="none"/>
<path d="M316.80 193.00V258.40H471.10" fill="none" stroke="#000" stroke-width="1.5"/>
<path d="M314.40 258.40H316.80" stroke="#000" stroke-width="1"/>
<text x="307.26" y="260.42" font-family='"Liberation Sans", sans-serif' font-size="5.6" font-weight="normal" fill="#444" textLength="3.36" lengthAdjust="spacingAndGlyphs">0</text>
<path d="M314.40 247.55H316.80" stroke="#000" stroke-width="1"/>
<text x="307.26" y="249.57" font-family='"Liberation Sans", sans-serif' font-size="5.6" font-weight="normal" fill="#444" textLength="3.36" lengthAdjust="spacingAndGlyphs">5</text>
<path d="M314.40 236.70H316.80" stroke="#000" stroke-width="1"/>
<text x="303.87" y="238.72" font-family='"Liberation Sans", sans-serif' font-size="5.6" font-weight="normal" fill="#444" textLength="6.73" lengthAdjust="spacingAndGlyphs">10</text>
<path d="M314.40 225.85H316.80" stroke="#000" stroke-width="1"/>
<text x="303.87" y="227.87" font-family='"Liberation Sans", sans-serif' font-size="5.6" font-weight="normal" fill="#444" textLength="6.73" lengthAdjust="spacingAndGlyphs">15</text>
<path d="M314.40 215.00H316.80" stroke="#000" stroke-width="1"/>
<text x="303.87" y="217.02" font-family='"Liberation Sans", sans-serif' font-size="5.6" font-weight="normal" fill="#444" textLength="6.73" lengthAdjust="spacingAndGlyphs">20</text>
<path d="M314.40 204.15H316.80" stroke="#000" stroke-width="1"/>
<text x="303.87" y="206.17" font-family='"Liberation Sans", sans-serif' font-size="5.6" font-weight="normal" fill="#444" textLength="6.73" lengthAdjust="spacingAndGlyphs">25</text>
<path d="M314.40 193.30H316.80" stroke="#000" stroke-width="1"/>
<text x="303.87" y="195.32" font-family='"Liberation Sans", sans-serif' font-size="5.6" font-weight="normal" fill="#444" textLength="6.73" lengthAdjust="spacingAndGlyphs">30</text>
<path d="M342.52 258.40V260.80" stroke="#000" stroke-width="1"/>
<path d="M368.23 258.40V260.80" stroke="#000" stroke-width="1"/>
<path d="M393.95 258.40V260.80" stroke="#000" stroke-width="1"/>
<path d="M419.67 258.40V260.80" stroke="#000" stroke-width="1"/>
<path d="M445.38 258.40V260.80" stroke="#000" stroke-width="1"/>
<path d="M471.10 258.40V260.80" stroke="#000" stroke-width="1"/>
<text x="322.36" y="273.00" font-family='"Liberation Sans", sans-serif' font-size="8.6" font-weight="bold" fill="#000">0</text>
<text x="348.74" y="273.00" font-family='"Liberation Sans", sans-serif' font-size="8.6" font-weight="bold" fill="#000" style="letter-spacing:-0.216px">25+</text>
<text x="374.74" y="273.00" font-family='"Liberation Sans", sans-serif' font-size="8.6" font-weight="bold" fill="#000" style="letter-spacing:-0.216px">50+</text>
<text x="400.08" y="273.00" font-family='"Liberation Sans", sans-serif' font-size="8.6" font-weight="bold" fill="#000" style="letter-spacing:0.237px">100+</text>
<text x="425.94" y="273.00" font-family='"Liberation Sans", sans-serif' font-size="8.6" font-weight="bold" fill="#000" style="letter-spacing:-0.049px">200+</text>
<text x="451.41" y="273.00" font-family='"Liberation Sans", sans-serif' font-size="8.6" font-weight="bold" fill="#000" style="letter-spacing:-0.007px">400+</text>
<text x="344.78" y="283.00" font-family='"Liberation Sans", sans-serif' font-size="8.6" font-weight="bold" fill="#000" style="letter-spacing:-0.253px">1.875</text>
<text x="374.43" y="283.00" font-family='"Liberation Sans", sans-serif' font-size="8.6" font-weight="bold" fill="#000" style="letter-spacing:-0.180px">3.75</text>
<text x="404.06" y="283.00" font-family='"Liberation Sans", sans-serif' font-size="8.6" font-weight="bold" fill="#000" style="letter-spacing:-0.300px">7.5</text>
<text x="427.98" y="283.00" font-family='"Liberation Sans", sans-serif' font-size="8.6" font-weight="bold" fill="#000" style="letter-spacing:0.342px">15</text>
<text x="454.23" y="283.00" font-family='"Liberation Sans", sans-serif' font-size="8.6" font-weight="bold" fill="#000" style="letter-spacing:0.484px">30</text>
<text x="344.68" y="294.00" font-family='"Liberation Sans", sans-serif' font-size="8.6" font-weight="bold" fill="#000" style="letter-spacing:0.022px">[Imatinib, nM]+[nilotinib, nM]</text>
<text transform="translate(303.60,352.60) rotate(-90)" x="-0.50" y="0" font-family='"Liberation Serif", serif' font-size="9.6" font-weight="bold" fill="#000" textLength="68.81" lengthAdjust="spacingAndGlyphs">Colony Number</text>
<rect x="339.67" y="309.53" width="13.50" height="37.47" fill="#9494cc" stroke="#5c5c8c" stroke-width="0.8"/>
<rect x="375.72" y="313.14" width="13.50" height="33.86" fill="#9494cc" stroke="#5c5c8c" stroke-width="0.8"/>
<rect x="411.77" y="310.72" width="13.50" height="36.28" fill="#9494cc" stroke="#5c5c8c" stroke-width="0.8"/>
<rect x="447.82" y="298.34" width="13.50" height="48.66" fill="#9494cc" stroke="#5c5c8c" stroke-width="0.8"/>
<path d="M328.40 294.50V347.00H473.30" fill="none" stroke="#000" stroke-width="1.5"/>
<path d="M326.00 347.00H328.40" stroke="#000" stroke-width="1"/>
<text x="319.92" y="348.87" font-family='"Liberation Sans", sans-serif' font-size="5.2" font-weight="normal" fill="#444" textLength="3.61" lengthAdjust="spacingAndGlyphs">0</text>
<path d="M326.00 339.54H328.40" stroke="#000" stroke-width="1"/>
<text x="312.71" y="341.41" font-family='"Liberation Sans", sans-serif' font-size="5.2" font-weight="normal" fill="#444" textLength="10.84" lengthAdjust="spacingAndGlyphs">200</text>
<path d="M326.00 332.09H328.40" stroke="#000" stroke-width="1"/>
<text x="312.71" y="333.96" font-family='"Liberation Sans", sans-serif' font-size="5.2" font-weight="normal" fill="#444" textLength="10.84" lengthAdjust="spacingAndGlyphs">400</text>
<path d="M326.00 324.63H328.40" stroke="#000" stroke-width="1"/>
<text x="312.71" y="326.50" font-family='"Liberation Sans", sans-serif' font-size="5.2" font-weight="normal" fill="#444" textLength="10.84" lengthAdjust="spacingAndGlyphs">600</text>
<path d="M326.00 317.17H328.40" stroke="#000" stroke-width="1"/>
<text x="312.71" y="319.04" font-family='"Liberation Sans", sans-serif' font-size="5.2" font-weight="normal" fill="#444" textLength="10.84" lengthAdjust="spacingAndGlyphs">800</text>
<path d="M326.00 309.71H328.40" stroke="#000" stroke-width="1"/>
<text x="309.07" y="311.59" font-family='"Liberation Sans", sans-serif' font-size="5.2" font-weight="normal" fill="#444" textLength="14.46" lengthAdjust="spacingAndGlyphs">1000</text>
<path d="M326.00 302.26H328.40" stroke="#000" stroke-width="1"/>
<text x="309.07" y="304.13" font-family='"Liberation Sans", sans-serif' font-size="5.2" font-weight="normal" fill="#444" textLength="14.46" lengthAdjust="spacingAndGlyphs">1200</text>
<path d="M326.00 294.80H328.40" stroke="#000" stroke-width="1"/>
<text x="309.07" y="296.67" font-family='"Liberation Sans", sans-serif' font-size="5.2" font-weight="normal" fill="#444" textLength="14.46" lengthAdjust="spacingAndGlyphs">1400</text>
<path d="M364.62 347.00V349.40" stroke="#000" stroke-width="1"/>
<path d="M400.85 347.00V349.40" stroke="#000" stroke-width="1"/>
<path d="M437.07 347.00V349.40" stroke="#000" stroke-width="1"/>
<path d="M473.30 347.00V349.40" stroke="#000" stroke-width="1"/>
<text x="340.06" y="359.10" font-family='"Liberation Sans", sans-serif' font-size="8.6" font-weight="bold" fill="#000">0</text>
<text x="374.36" y="359.10" font-family='"Liberation Sans", sans-serif' font-size="8.6" font-weight="bold" fill="#000" style="letter-spacing:-0.073px">75+</text>
<text x="408.88" y="359.10" font-family='"Liberation Sans", sans-serif' font-size="8.6" font-weight="bold" fill="#000" style="letter-spacing:0.003px">150+</text>
<text x="447.83" y="359.10" font-family='"Liberation Sans", sans-serif' font-size="8.6" font-weight="bold" fill="#000" style="letter-spacing:-0.211px">300+</text>
<text x="374.53" y="369.30" font-family='"Liberation Sans", sans-serif' font-size="8.6" font-weight="bold" fill="#000" style="letter-spacing:-0.080px">3.75</text>
<text x="409.76" y="369.30" font-family='"Liberation Sans", sans-serif' font-size="8.6" font-weight="bold" fill="#000" style="letter-spacing:-0.300px">7.5</text>
<text x="447.48" y="369.30" font-family='"Liberation Sans", sans-serif' font-size="8.6" font-weight="bold" fill="#000" style="letter-spacing:-0.300px">15</text>
<text x="343.38" y="378.20" font-family='"Liberation Sans", sans-serif' font-size="8.6" font-weight="bold" fill="#000" style="letter-spacing:0.070px">[Imatinib, nM]+[nilotinib, nM]</text>
<path d="M476.4 315.6V320.8" stroke="#aaa" stroke-width="0.8"/>
</svg></body></html>
